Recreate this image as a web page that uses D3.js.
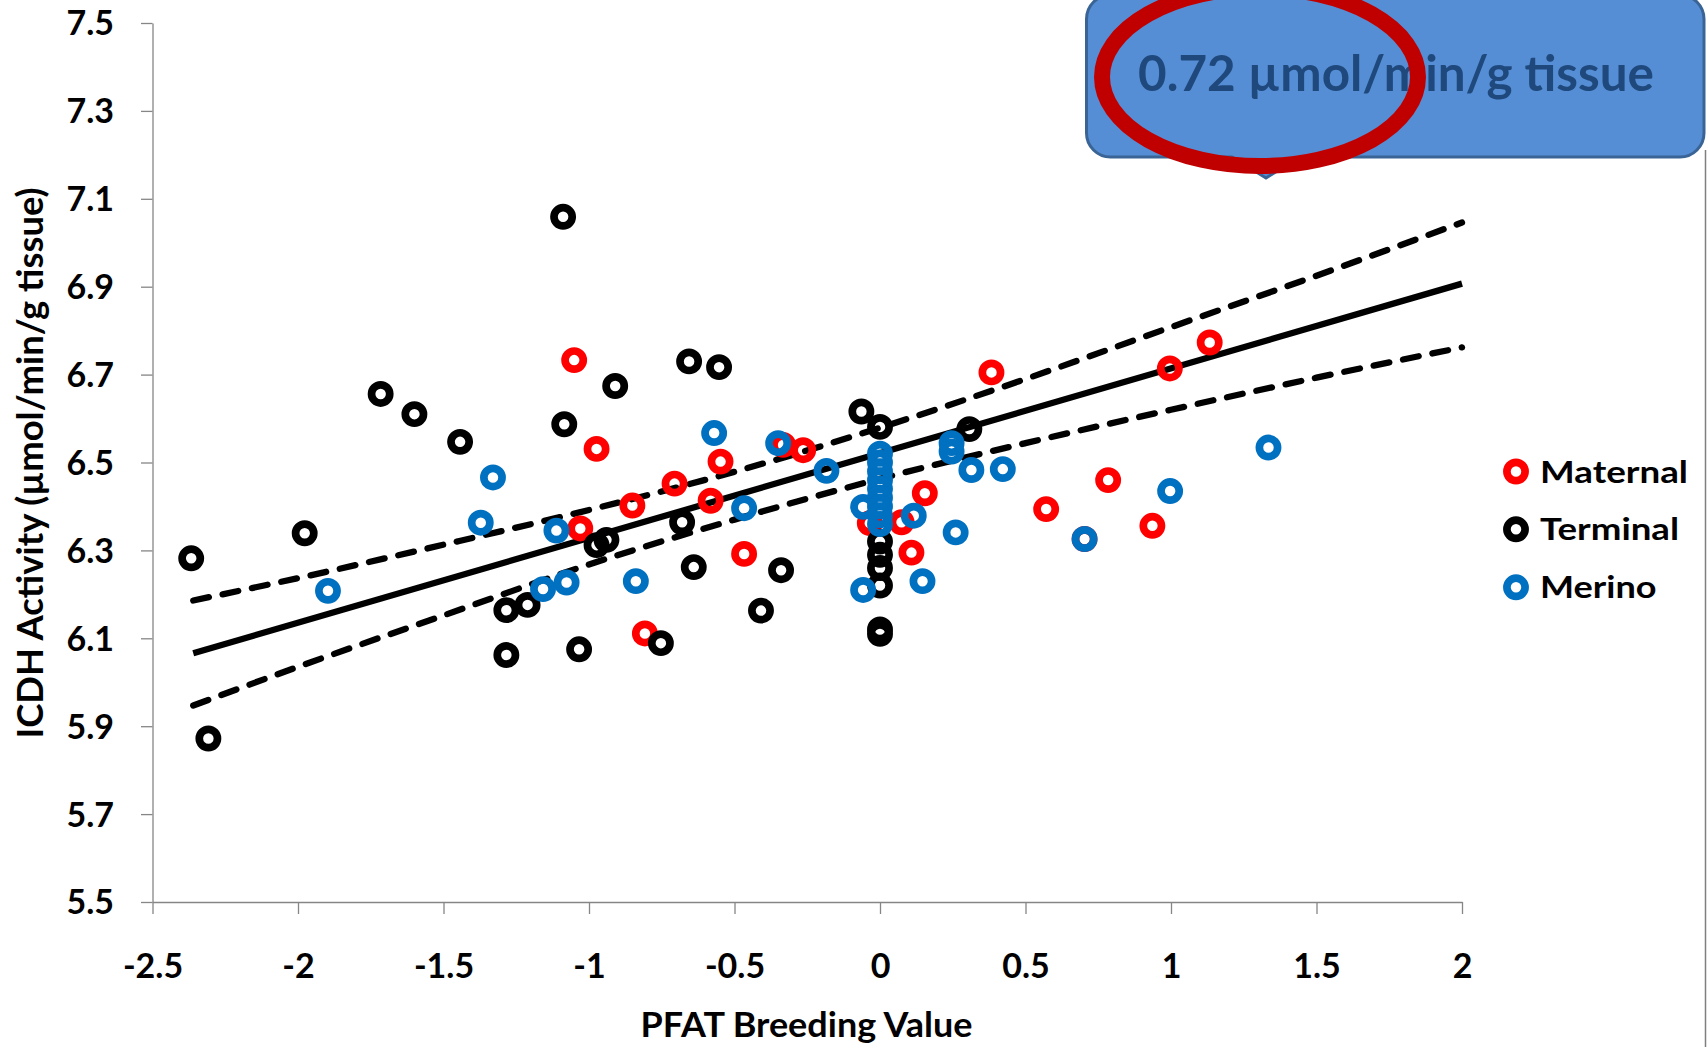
<!DOCTYPE html>
<html><head><meta charset="utf-8">
<script src="https://cdn.jsdelivr.net/npm/d3@7"></script>
<style>html,body{margin:0;padding:0;background:#fff;} svg{display:block;}</style>
</head><body>
<svg id="chart" width="1708" height="1047"></svg>
<script>
// ---------- data ----------
const xTicks = [-2.5, -2, -1.5, -1, -0.5, 0, 0.5, 1, 1.5, 2];
const xTickLabels = ["-2.5", "-2", "-1.5", "-1", "-0.5", "0", "0.5", "1", "1.5", "2"];
const yTicks = [5.5, 5.7, 5.9, 6.1, 6.3, 6.5, 6.7, 6.9, 7.1, 7.3, 7.5];
const yTickLabels = ["5.5", "5.7", "5.9", "6.1", "6.3", "6.5", "6.7", "6.9", "7.1", "7.3", "7.5"];
const seriesNames = ["Maternal", "Terminal", "Merino"];
const seriesColors = ["#FF0000", "#000000", "#0070C0"];

const maternal = [
  [-1.051, 6.733], [-0.974, 6.531], [-1.030, 6.350], [-0.851, 6.402], [-0.706, 6.452],
  [-0.582, 6.413], [-0.548, 6.502], [-0.808, 6.111], [-0.467, 6.292], [-0.333, 6.540],
  [-0.264, 6.528], [0.383, 6.705], [0.996, 6.714], [1.133, 6.773], [0.154, 6.430],
  [0.074, 6.364], [0.108, 6.295], [0.571, 6.394], [0.784, 6.460], [0.703, 6.326],
  [0.936, 6.356], [-0.035, 6.362]
];
const terminal = [
  [-2.367, 6.282], [-2.308, 5.872], [-1.977, 6.339], [-1.716, 6.656], [-1.600, 6.610],
  [-1.443, 6.547], [-1.089, 7.059], [-1.085, 6.587], [-0.910, 6.674], [-1.284, 6.164],
  [-1.211, 6.176], [-1.284, 6.062], [-1.034, 6.075], [-0.974, 6.312], [-0.940, 6.324],
  [-0.656, 6.730], [-0.553, 6.717], [-0.680, 6.364], [-0.640, 6.262], [-0.753, 6.089],
  [-0.409, 6.163], [-0.340, 6.255], [-0.064, 6.616], [0.000, 6.581], [0.307, 6.576],
  [0.000, 6.320], [0.000, 6.290], [0.000, 6.260], [0.000, 6.220], [0.000, 6.120], [0.000, 6.110]
];
const merino = [
  [-1.897, 6.208], [-1.330, 6.466], [-1.372, 6.363], [-1.112, 6.345], [-1.158, 6.212],
  [-1.077, 6.227], [-0.839, 6.230], [-0.570, 6.567], [-0.467, 6.396], [-0.350, 6.544],
  [-0.184, 6.481], [-0.058, 6.210], [-0.058, 6.399],
  [0.000, 6.520], [0.000, 6.500], [0.000, 6.480], [0.000, 6.460], [0.000, 6.440],
  [0.000, 6.420], [0.000, 6.400], [0.000, 6.380], [0.000, 6.360],
  [0.116, 6.379], [0.146, 6.230], [0.246, 6.544], [0.246, 6.525], [0.314, 6.483],
  [0.422, 6.485], [0.260, 6.341], [0.703, 6.326], [0.997, 6.435], [1.335, 6.534]
];

const fitX = [-2.36, 2];
const fitY = [6.066, 6.907];
const bandX = [-2.36, -2, -1.5, -1, -0.5, 0, 0.5, 1, 1.5, 2];
const bandUpper = [6.186, 6.237, 6.313, 6.392, 6.479, 6.579, 6.690, 6.808, 6.925, 7.046];
const bandLower = [5.947, 6.035, 6.152, 6.268, 6.370, 6.463, 6.544, 6.620, 6.693, 6.762];

const calloutText = "0.72 µmol/min/g tissue";
const xTitle = "PFAT Breeding Value";
const yTitle = "ICDH Activity (µmol/min/g tissue)";

// ---------- drawing ----------
const svg = d3.select("#chart");
const FONT = "Lato, 'Open Sans', sans-serif";
const axisColor = "#868686";

const x = d3.scaleLinear().domain([-2.5, 2]).range([152.5, 1462]);
const y = d3.scaleLinear().domain([5.5, 7.5]).range([902, 23]);

// axes
const gx = svg.append("g").attr("transform", `translate(0,${y(5.5)})`)
  .call(d3.axisBottom(x).tickValues(xTicks).tickFormat((d, i) => xTickLabels[i])
    .tickSize(12).tickSizeOuter(0));
const gy = svg.append("g").attr("transform", `translate(${x(-2.5)},0)`)
  .call(d3.axisLeft(y).tickValues(yTicks).tickFormat((d, i) => yTickLabels[i])
    .tickSize(11.5).tickSizeOuter(0));
[gx, gy].forEach(g => {
  g.select(".domain").attr("stroke", axisColor).attr("stroke-width", 1.3);
  g.selectAll(".tick line").attr("stroke", axisColor).attr("stroke-width", 1.3);
  g.selectAll("text").attr("font-family", FONT).attr("font-weight", 700)
    .attr("font-size", 34).attr("fill", "#000");
});
gx.selectAll(".tick text").attr("y", 76).attr("dy", 0);
gy.selectAll(".tick text").attr("x", -38.5).attr("dy", "0.35em");

// axis titles
svg.append("text").attr("x", 806.5).attr("y", 1037).attr("text-anchor", "middle")
  .attr("font-family", FONT).attr("font-weight", 700).attr("font-size", 35)
  .attr("textLength", 332).attr("lengthAdjust", "spacingAndGlyphs").text(xTitle);
svg.append("text").attr("transform", "translate(43,463) rotate(-90)").attr("text-anchor", "middle")
  .attr("font-family", FONT).attr("font-weight", 700).attr("font-size", 35.5)
  .attr("textLength", 551).attr("lengthAdjust", "spacingAndGlyphs").text(yTitle);

// confidence band and fit
const bandLine = d3.line().x(d => x(d[0])).y(d => y(d[1])).curve(d3.curveMonotoneX);
const upperPts = bandX.map((v, i) => [v, bandUpper[i]]);
const lowerPts = bandX.map((v, i) => [v, bandLower[i]]);
[upperPts, lowerPts].forEach(pts => {
  svg.append("path").attr("d", bandLine(pts)).attr("fill", "none").attr("stroke", "#000")
    .attr("stroke-width", 6.3).attr("stroke-dasharray", "16,14").attr("stroke-linecap", "round");
});
svg.append("path").attr("d", d3.line().x(d => x(d[0])).y(d => y(d[1]))(fitX.map((v, i) => [v, fitY[i]])))
  .attr("fill", "none").attr("stroke", "#000").attr("stroke-width", 6.3);

// markers
const allSeries = [maternal, terminal, merino];
allSeries.forEach((data, si) => {
  svg.append("g").selectAll("circle").data(data).join("circle")
    .attr("cx", d => x(d[0])).attr("cy", d => y(d[1])).attr("r", 9.1)
    .attr("fill", "none").attr("stroke", seriesColors[si]).attr("stroke-width", 7.7);
});

// legend
const legendY = [471.5, 529.3, 587.3];
const legendW = [148, 139, 116.5];
seriesNames.forEach((name, i) => {
  svg.append("circle").attr("cx", 1516).attr("cy", legendY[i]).attr("r", 9.1)
    .attr("fill", "none").attr("stroke", seriesColors[i]).attr("stroke-width", 7.7);
  svg.append("text").attr("x", 1540).attr("y", legendY[i] + 11)
    .attr("font-family", FONT).attr("font-weight", 700).attr("font-size", 31)
    .attr("textLength", legendW[i]).attr("lengthAdjust", "spacingAndGlyphs").text(name);
});

// right border
svg.append("line").attr("x1", 1705.5).attr("x2", 1705.5).attr("y1", 150).attr("y2", 1047)
  .attr("stroke", "#7F7F7F").attr("stroke-width", 1.5);

// callout
const bx0 = 1086.5, bx1 = 1704, by0 = -5, by1 = 157, r = 24;
const calloutPath = `M${bx0 + r},${by0} H${bx1 - r} A${r},${r} 0 0 1 ${bx1},${by0 + r} V${by1 - r}
  A${r},${r} 0 0 1 ${bx1 - r},${by1} H1300 L1266,178 L1232,${by1} H${bx0 + r}
  A${r},${r} 0 0 1 ${bx0},${by1 - r} V${by0 + r} A${r},${r} 0 0 1 ${bx0 + r},${by0} Z`;
svg.append("path").attr("d", calloutPath).attr("fill", "#558ED5")
  .attr("stroke", "#3A6496").attr("stroke-width", 3);
svg.append("text").attr("x", 1138).attr("y", 91)
  .attr("font-family", FONT).attr("font-weight", 700).attr("font-size", 49).attr("fill", "#1F497D")
  .attr("textLength", 516).attr("lengthAdjust", "spacingAndGlyphs").text(calloutText);
svg.append("ellipse").attr("cx", 1260).attr("cy", 77).attr("rx", 158).attr("ry", 89)
  .attr("fill", "none").attr("stroke", "#C00000").attr("stroke-width", 16);
</script>
</body></html>
